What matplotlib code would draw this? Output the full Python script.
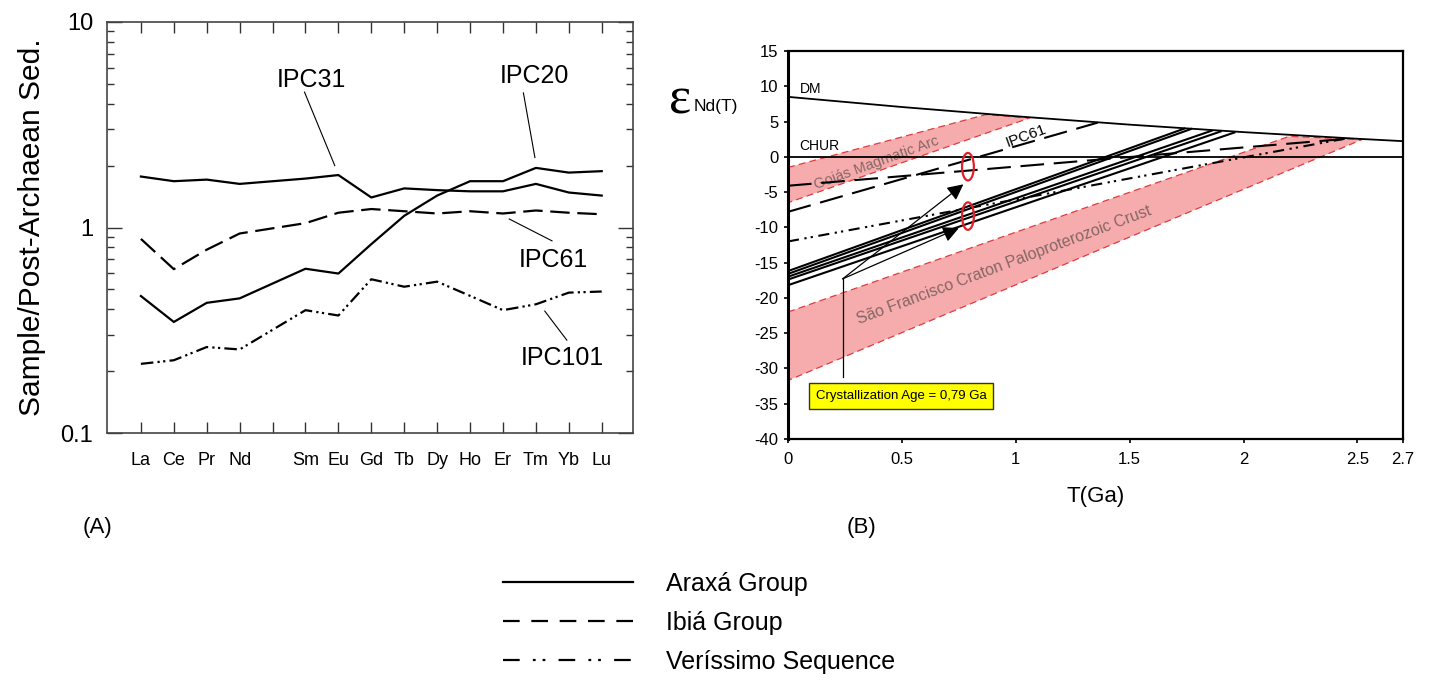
import matplotlib
matplotlib.use("Agg")
import matplotlib.pyplot as plt
from matplotlib.lines import Line2D
from matplotlib.patches import Ellipse

plt.rcParams['font.family'] = ['Liberation Sans', 'DejaVu Sans']
plt.rcParams['lines.scale_dashes'] = False
plt.rcParams['axes.unicode_minus'] = False

# ---------------- data: panel A (REE patterns) ----------------
ree_ticks = ['La', 'Ce', 'Pr', 'Nd', '', 'Sm', 'Eu', 'Gd', 'Tb', 'Dy', 'Ho', 'Er', 'Tm', 'Yb', 'Lu']
ree_pos = [0, 1, 2, 3, 5, 6, 7, 8, 9, 10, 11, 12, 13, 14]
ipc31 = [1.77, 1.68, 1.71, 1.63, 1.73, 1.80, 1.40, 1.55, 1.52, 1.50, 1.50, 1.63, 1.48, 1.43]
ipc20 = [0.464, 0.347, 0.43, 0.452, 0.63, 0.597, 0.83, 1.14, 1.43, 1.68, 1.68, 1.95, 1.85, 1.88]
ipc61 = [0.88, 0.627, 0.78, 0.935, 1.05, 1.18, 1.23, 1.20, 1.17, 1.20, 1.17, 1.21, 1.18, 1.16]
ipc101 = [0.217, 0.226, 0.262, 0.255, 0.396, 0.373, 0.56, 0.515, 0.545, 0.465, 0.396, 0.423, 0.482, 0.488]

# sample labels: text position, leader start, leader end
lab_names = ['IPC31', 'IPC20', 'IPC61', 'IPC101']
lab_text_x = [5.17, 11.95, 12.54, 12.81]
lab_text_y = [5.25, 5.43, 0.693, 0.232]
lead_x0 = [4.97, 11.62, 11.19, 12.27]
lead_y0 = [4.56, 4.52, 1.10, 0.392]
lead_x1 = [5.89, 11.97, 12.49, 12.94]
lead_y1 = [2.0, 2.19, 0.861, 0.283]

# ---------------- data: panel B (eNd evolution) ----------------
dm_T = [0, 0.5, 1.0, 1.5, 2.0, 2.5, 2.7]
dm_eps = [8.5, 7.06, 5.75, 4.56, 3.5, 2.56, 2.22]
chur_T = [0, 2.7]
chur_eps = [0, 0]

araxa_start_eps = [-16.2, -16.6, -17.0, -17.4, -18.2]
araxa_end_T = [1.74, 1.77, 1.86, 1.90, 1.96]
araxa_end_eps = [4.0, 3.95, 3.7, 3.6, 3.45]

ibia_start_eps = [-4.1, -7.8]
ibia_end_T = [2.45, 1.36]
ibia_end_eps = [2.55, 4.85]

veris_start_eps = [-12.0]
veris_end_T = [2.45]
veris_end_eps = [2.6]

goias_T = [0, 0.87, 1.06, 0]
goias_eps = [-1.5, 6.0, 5.5, -6.5]
sf_T = [0, 2.2, 2.52, 0]
sf_eps = [-22.0, 2.9, 2.45, -31.7]

ell_T = [0.79, 0.79]
ell_eps = [-1.4, -8.4]

arrow_tail = (0.24, -17.3)
arrow_heads_T = [0.77, 0.75]
arrow_heads_eps = [-3.9, -10.1]
box_stem_eps = [-31.2, -17.3]

x_ticks_B = [0, 0.5, 1, 1.5, 2, 2.5, 2.7]
x_ticklabels_B = ['0', '0.5', '1', '1.5', '2', '2.5', '2.7']
y_ticks_B = list(range(-40, 16, 5))

legend_labels = ['Araxá Group', 'Ibiá Group', 'Veríssimo Sequence']

# ---------------- styles ----------------
ls_dash = (0, (14, 5.5))
ls_dashdotdot = (0, (9, 3, 1.6, 2.5, 1.6, 3))
ls_dash_B = (0, (17, 7))
ls_dashdotdot_B = (0, (8, 4, 1.6, 3, 1.6, 4))
pink = '#f6acac'
red = '#e23a3f'
band_text = '#866666'

fig = plt.figure(figsize=(14.32, 6.8), dpi=100)

# ================= Panel A =================
ax1 = fig.add_axes([107/1432, 1-433/680, (633-107)/1432, (433-22)/680])
ax1.set_yscale('log')
ax1.plot(ree_pos, ipc31, color='k', lw=1.6)
ax1.plot(ree_pos, ipc20, color='k', lw=1.6)
ax1.plot(ree_pos, ipc61, color='k', lw=1.6, linestyle=ls_dash)
ax1.plot(ree_pos, ipc101, color='k', lw=1.6, linestyle=ls_dashdotdot)
ax1.set_xlim(-1.03, 14.95)
ax1.set_ylim(0.1, 10)
ax1.set_xticks(range(len(ree_ticks)))
ax1.set_xticklabels(ree_ticks)
ax1.set_yticks([0.1, 1, 10])
ax1.set_yticklabels(['0.1', '1', '10'])
ax1.tick_params(axis='x', direction='in', top=True, bottom=True, length=8, width=1.0,
                labelsize=13, pad=14, color='#333333')
ax1.tick_params(axis='y', which='major', direction='in', left=True, right=True, length=11,
                width=1.0, labelsize=17, pad=10, color='#333333')
ax1.tick_params(axis='y', which='minor', direction='in', left=True, right=True, length=5,
                width=1.0, color='#333333')
ax1.yaxis.set_minor_formatter(matplotlib.ticker.NullFormatter())
for s in ax1.spines.values():
    s.set_linewidth(1.2)
    s.set_color('#444444')
ax1.set_ylabel('Sample/Post-Archaean Sed.', fontsize=21.5, labelpad=10)

for i in range(len(lab_names)):
    ax1.text(lab_text_x[i], lab_text_y[i], lab_names[i], fontsize=18, ha='center', va='center')
    ax1.plot([lead_x0[i], lead_x1[i]], [lead_y0[i], lead_y1[i]], color='k', lw=0.8)

fig.text(97/1432, 1-527/680, '(A)', fontsize=16, ha='center', va='center')

# ================= Panel B =================
ax2 = fig.add_axes([788/1432, 1-439/680, (1403-788)/1432, (439-51)/680])
ax2.set_xlim(0, 2.7)
ax2.set_ylim(-40, 15)

ax2.fill(sf_T, sf_eps, facecolor=pink, edgecolor=red, lw=0.9, linestyle=(0, (5, 3)), zorder=1)
ax2.fill(goias_T, goias_eps, facecolor=pink, edgecolor=red, lw=0.9, linestyle=(0, (5, 3)), zorder=1)

ax2.plot(dm_T, dm_eps, color='k', lw=1.3, zorder=3)
ax2.plot(chur_T, chur_eps, color='k', lw=1.3, zorder=3)

for i in range(len(araxa_start_eps)):
    ax2.plot([0, araxa_end_T[i]], [araxa_start_eps[i], araxa_end_eps[i]], color='k', lw=1.5, zorder=3)
for i in range(len(ibia_start_eps)):
    ax2.plot([0, ibia_end_T[i]], [ibia_start_eps[i], ibia_end_eps[i]], color='k', lw=1.5,
             linestyle=ls_dash_B, zorder=3)
for i in range(len(veris_start_eps)):
    ax2.plot([0, veris_end_T[i]], [veris_start_eps[i], veris_end_eps[i]], color='k', lw=1.5,
             linestyle=ls_dashdotdot_B, zorder=3)

for i in range(len(ell_T)):
    ax2.add_patch(Ellipse((ell_T[i], ell_eps[i]), 0.052, 3.9, facecolor='none',
                          edgecolor='#e0202a', lw=1.6, zorder=4))

ax2.plot([arrow_tail[0], arrow_tail[0]], box_stem_eps, color='k', lw=0.9, zorder=4)
for i in range(len(arrow_heads_T)):
    ax2.annotate('', xy=(arrow_heads_T[i], arrow_heads_eps[i]), xytext=arrow_tail,
                 arrowprops=dict(arrowstyle='-|>', color='k', lw=0.9, mutation_scale=24,
                                 shrinkA=0, shrinkB=0), zorder=5)

ax2.text(0.498, -33.9, 'Crystallization Age = 0,79 Ga', fontsize=9.5, ha='center', va='center',
         bbox=dict(boxstyle='square,pad=0.5', facecolor='#ffff00', edgecolor='#333333', lw=1.0),
         zorder=6)

ax2.text(0.05, 9.6, 'DM', fontsize=10, ha='left', va='center')
ax2.text(0.05, 1.6, 'CHUR', fontsize=10, ha='left', va='center')
ax2.text(0.39, -0.8, 'Goiás Magmatic Arc', fontsize=10.5, color=band_text, rotation=20,
         ha='center', va='center', rotation_mode='anchor', zorder=2)
ax2.text(1.047, 2.9, 'IPC61', fontsize=11, rotation=20, ha='center', va='center',
         rotation_mode='anchor', zorder=4)
ax2.text(0.95, -15.4, 'São Francisco Craton Paloproterozoic Crust', fontsize=11.5, color=band_text,
         rotation=20.5, ha='center', va='center', rotation_mode='anchor', zorder=2)

ax2.set_xticks(x_ticks_B)
ax2.set_xticklabels(x_ticklabels_B)
ax2.set_yticks(y_ticks_B)
ax2.tick_params(axis='both', direction='out', length=3, width=1.2, labelsize=12)
ax2.tick_params(axis='x', pad=6)
ax2.tick_params(axis='y', pad=4)
for s in ax2.spines.values():
    s.set_linewidth(1.6)
ax2.spines['left'].set_linewidth(2.2)
ax2.set_xlabel('T(Ga)', fontsize=16, labelpad=14)

fig.text(680/1432, 1-100/680, 'ε', fontsize=38, family='Liberation Serif', ha='center', va='center')
fig.text(694/1432, 1-106/680, 'Nd(T)', fontsize=12.5, ha='left', va='center')

fig.text(862/1432, 1-527/680, '(B)', fontsize=16, ha='center', va='center')

# ================= Legend =================
handles = [Line2D([], [], color='k', lw=1.6),
           Line2D([], [], color='k', lw=1.6, linestyle=(0, (12, 8.4))),
           Line2D([], [], color='k', lw=1.6, linestyle=(0, (12, 9.5, 2, 5, 2, 9.5)))]
fig.legend(handles, legend_labels, loc='upper left', bbox_to_anchor=(503/1432, 1-572/680),
           frameon=False, fontsize=18, handlelength=5.2, handletextpad=1.3,
           labelspacing=0.6, borderpad=0, borderaxespad=0)

fig.savefig('out.png', dpi=100)
